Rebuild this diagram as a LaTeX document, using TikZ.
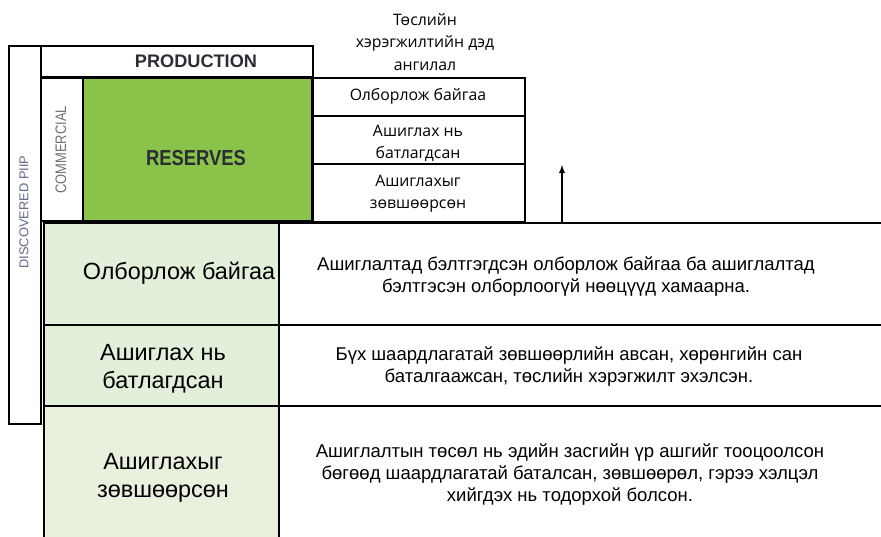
\documentclass[tikz,border=0pt]{standalone}
\usepackage{fontspec}
\setmainfont{Liberation Sans}
\newfontfamily\opensans{Open Sans}
\newfontfamily\narrowsans{Liberation Sans}[FakeStretch=0.85]
\usetikzlibrary{positioning}
\definecolor{resgreen}{RGB}{137,195,74}
\definecolor{rowgreen}{RGB}{226,239,218}
\definecolor{rowpale}{RGB}{234,240,222}
\definecolor{labblue}{RGB}{96,104,136}
\definecolor{labgrey}{RGB}{112,112,112}
\definecolor{capgrey}{RGB}{44,44,52}
\begin{document}
\begin{tikzpicture}[x=0.03cm, y=-0.03cm,
    cell/.style 2 args={draw, line width=1.6pt, anchor=north west, inner sep=0pt,
      minimum width=#1*0.03cm, minimum height=#2*0.03cm},
    small/.style={font=\opensans\fontsize{13.5}{18.5}\selectfont, align=center, inner sep=0pt},
    big/.style={font=\fontsize{20}{23.5}\selectfont, align=center, inner sep=0pt},
    desc/.style={font=\fontsize{15.8}{18.8}\selectfont, align=center, inner sep=0pt}]
  \useasboundingbox (0,0) rectangle (881,536);
  % upper block
  \node[cell={32}{378}] (disc) at (8,45) {};
  \node[cell={272}{31}] (prod) at (40,45) {};
  \node[cell={42}{143}] (comm) at (40,77) {};
  \node[cell={229}{143}, fill=resgreen] (res) at (82,77) {};
  \node[rotate=90, text=labblue, font=\fontsize{11}{12}\selectfont] (disctxt) at (24,212) {DISCOVERED PIIP};
  \node[rotate=90, text=labgrey, font=\narrowsans\fontsize{13}{13}\selectfont] (commtxt) at (61,150) {COMMERCIAL};
  \node[text=capgrey, font=\bfseries\fontsize{15.5}{16}\selectfont] (prodtxt) at (196,61) {PRODUCTION};
  \node[text=capgrey, font=\narrowsans\bfseries\fontsize{18.5}{19}\selectfont] (restxt) at (196,158) {RESERVES};
  % sub-classes
  \node[small] (hdr) at (425,42) {Төслийн\\[1pt]хэрэгжилтийн дэд\\[1pt]ангилал};
  \node[cell={212}{38}] (sub1) at (312,77) {};
  \node[cell={212}{48}] (sub2) at (312,115) {};
  \node[cell={212}{58}] (sub3) at (312,163) {};
  \node[small] (sub1txt) at (418,96) {Олборлож байгаа};
  \node[small] (sub2txt) at (418,143) {Ашиглах нь\\батлагдсан};
  \node[small] (sub3txt) at (418,194) {Ашиглахыг\\зөвшөөрсөн};
  \coordinate (arrbase) at (562,222);
  \coordinate (arrtip) at (562,165);
  \draw[-latex, line width=1.4pt] (arrbase) -- (arrtip);
  % lower table
  \node[cell={235}{102}, fill=rowgreen] (lab1) at (43,222) {};
  \node[cell={604}{102}] (desc1) at (278,222) {};
  \node[cell={235}{81}, fill=rowgreen] (lab2) at (43,324) {};
  \node[cell={604}{81}] (desc2) at (278,324) {};
  \node[cell={235}{150}, fill=rowpale] (lab3) at (43,405) {};
  \node[cell={604}{150}] (desc3) at (278,405) {};
  \node[big] (lab1txt) at (179,273) {Олборлож байгаа};
  \node[big] (lab2txt) at (163,369) {Ашиглах нь\\батлагдсан};
  \node[big] (lab3txt) at (163,478) {Ашиглахыг\\[1pt]зөвшөөрсөн};
  \node[desc] (desc1txt) at (566,277) {Ашиглалтад бэлтгэгдсэн олборлож байгаа ба ашиглалтад\\бэлтгэсэн олборлоогүй нөөцүүд хамаарна.};
  \node[desc] (desc2txt) at (569,367) {Бүх шаардлагатай зөвшөөрлийн авсан, хөрөнгийн сан\\баталгаажсан, төслийн хэрэгжилт эхэлсэн.};
  \node[desc] (desc3txt) at (570,475) {Ашиглалтын төсөл нь эдийн засгийн үр ашгийг тооцоолсон\\бөгөөд шаардлагатай баталсан, зөвшөөрөл, гэрээ хэлцэл\\хийгдэх нь тодорхой болсон.};
\end{tikzpicture}
\end{document}
